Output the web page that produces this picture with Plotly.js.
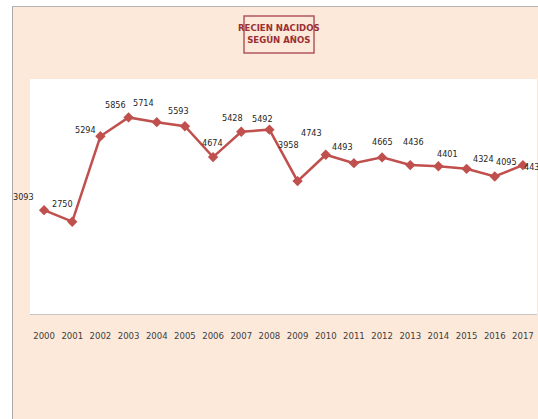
<!DOCTYPE html>
<html>
<head>
<meta charset="utf-8">
<script src="https://cdn.plot.ly/plotly-3.0.1.min.js"></script>
<style>
html,body{margin:0;padding:0;background:#ffffff;width:538px;height:419px;overflow:hidden;}
#frame{position:absolute;left:12px;top:6px;width:526px;height:413px;background:#fde9d9;border-left:1px solid #a9a9a9;border-top:1px solid #b4b4b4;box-sizing:border-box;}
#chart{position:absolute;left:-1px;top:-1px;width:527px;height:414px;}
</style>
</head>
<body>
<div id="frame"><div id="chart"></div></div>
<script>
const years = ["2000","2001","2002","2003","2004","2005","2006","2007","2008","2009","2010","2011","2012","2013","2014","2015","2016","2017"];
const births = [3093,2750,5294,5856,5714,5593,4674,5428,5492,3958,4743,4493,4665,4436,4401,4324,4095,4434];
const titleText = "RECIEN NACIDOS<br>SEGÚN AÑOS";

// label offsets in pixels relative to each point (style only)
const labelDx = [-21,-10,-15,-13,-13,-6,-1,-9,-7,-9,-14,-11,0,3,9,17,12,12];
const labelDy = [13,18,6,12,19,15,14,14,11,36,22,16,15,23,12,10,15,-2];

const FONT = "Liberation Sans Narrow, DejaVu Sans Condensed, sans-serif";

const trace = {
  type: "scatter",
  mode: "lines+markers",
  x: years,
  y: births,
  line: {color: "#c0504d", width: 2.5},
  marker: {symbol: "diamond", size: 8, color: "#c0504d"},
  cliponaxis: false,
  hoverinfo: "none"
};

// category axis: annotation x given as the category's serial index
const labelAnns = years.map((yr, i) => ({
  xref: "x", yref: "y", x: i, y: births[i],
  text: String(births[i]), showarrow: false,
  xanchor: "center", yanchor: "middle",
  xshift: labelDx[i], yshift: labelDy[i],
  font: {family: FONT, size: 9, color: "#262626"}
}));

const layout = {
  width: 527, height: 414,
  margin: {l: 18, r: 2, t: 73, b: 106},
  paper_bgcolor: "rgba(0,0,0,0)",
  plot_bgcolor: "#ffffff",
  showlegend: false,
  font: {family: FONT},
  xaxis: {
    type: "category",
    range: [-0.5, 17.5],
    showline: true, linecolor: "#c6c6c6", linewidth: 1,
    showgrid: false, zeroline: false,
    ticks: "outside", ticklen: 13, tickcolor: "rgba(0,0,0,0)",
    tickfont: {family: FONT, size: 9.5, color: "#404040"},
    fixedrange: true
  },
  yaxis: {
    range: [0, 7000],
    showticklabels: false, showgrid: false, zeroline: false, showline: false,
    ticks: "", fixedrange: true
  },
  shapes: [{
    type: "rect", xref: "paper", yref: "paper",
    x0: 0.4221, x1: 0.5602, y0: 1.1106, y1: 1.2681,
    line: {color: "#b0585c", width: 1.5},
    fillcolor: "rgba(0,0,0,0)"
  }],
  annotations: [{
    xref: "paper", yref: "paper",
    x: 0.4911, y: 1.1957, xanchor: "center", yanchor: "middle",
    text: "<b>" + titleText + "</b>", showarrow: false,
    font: {family: FONT, size: 9.5, color: "#9b2f33"},
    align: "center"
  }].concat(labelAnns)
};

Plotly.newPlot("chart", [trace], layout, {displayModeBar: false, staticPlot: true});
</script>
</body>
</html>
